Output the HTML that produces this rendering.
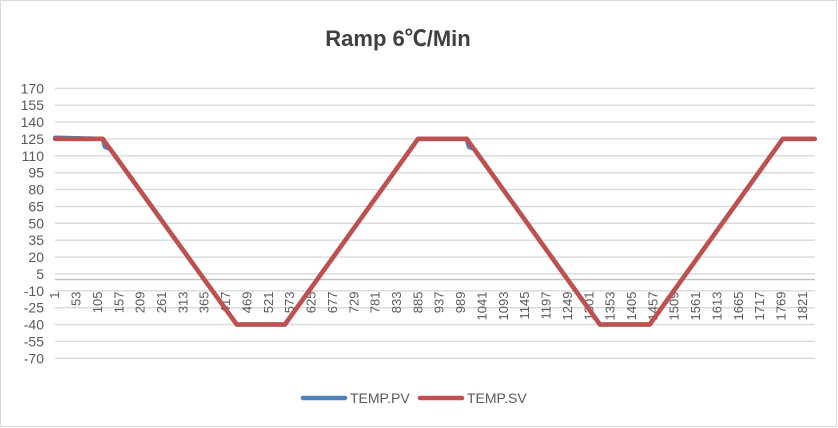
<!DOCTYPE html>
<html><head><meta charset="utf-8"><style>
body{margin:0;background:#fff;}
svg{display:block;font-family:"Liberation Sans","Noto Sans CJK SC",sans-serif;}
</style></head><body>
<svg id="chart" width="838" height="428">
<rect x="0.5" y="0.5" width="836" height="426" fill="#fff" stroke="#d9d9d9"/>
<text x="398" y="46" text-anchor="middle" font-size="22" font-weight="bold" fill="#404040">Ramp 6℃/Min</text>
<g id="grid"></g><g id="ylabels"></g><g id="xlabels"></g><g id="series"></g>
<g>
<line x1="303" y1="398" x2="345" y2="398" stroke="#4f81bd" stroke-width="4.5" stroke-linecap="round"/>
<text x="350" y="403" font-size="14" fill="#595959">TEMP.PV</text>
<line x1="420" y1="398" x2="462" y2="398" stroke="#c0504d" stroke-width="4.5" stroke-linecap="round"/>
<text x="467" y="403" font-size="14" fill="#595959">TEMP.SV</text>
</g>
</svg>
<script>
const yTicks=[-70,-55,-40,-25,-10,5,20,35,50,65,80,95,110,125,140,155,170];
const categoryCount=1850;
const xLabelStep=52;
const svIdx=[1,117,443,560,884,1003,1327,1448,1772,1850];
const svVal=[125,125,-40,-40,125,125,-40,-40,125,125];
const pvIdx=[1,117,122,135,443,560,884,1003,1008,1021,1327,1448,1772,1850];
const pvVal=[126,125,118,116,-40,-40,125,125,118,116,-40,-40,125,125];
const NS='http://www.w3.org/2000/svg';
const X0=55,X1=815,Y0=88.3,Y1=358.3;
const step=(X1-X0)/categoryCount;
function xs(i){return X0+(i-0.5)*step;}
function ys(v){return Y0+(170-v)*(Y1-Y0)/240;}
const grid=document.getElementById('grid'),yl=document.getElementById('ylabels'),xl=document.getElementById('xlabels'),ser=document.getElementById('series');
yTicks.forEach(t=>{
 const l=document.createElementNS(NS,'line');
 l.setAttribute('x1',X0);l.setAttribute('x2',X1);l.setAttribute('y1',ys(t));l.setAttribute('y2',ys(t));
 l.setAttribute('stroke','#d9d9d9');l.setAttribute('stroke-width','1.3');
 
 
 grid.appendChild(l);
 const tx=document.createElementNS(NS,'text');
 tx.setAttribute('x',44);tx.setAttribute('y',ys(t)+5);tx.setAttribute('text-anchor','end');
 tx.setAttribute('font-size','14');tx.setAttribute('fill','#595959');tx.textContent=t;
 
 
 yl.appendChild(tx);
});
const ax=document.createElementNS(NS,'line');
ax.setAttribute('x1',X0);ax.setAttribute('x2',X1);ax.setAttribute('y1',ys(0));ax.setAttribute('y2',ys(0));
ax.setAttribute('stroke','#bfbfbf');ax.setAttribute('stroke-width','1.3');


grid.appendChild(ax);
for(let c=1;c<=categoryCount;c+=xLabelStep){
 const tx=document.createElementNS(NS,'text');
 const x=xs(c)+4,y=ys(0)+12;
 tx.setAttribute('transform','translate('+x+','+y+') rotate(-90)');
 tx.setAttribute('text-anchor','end');tx.setAttribute('font-size','13');tx.setAttribute('fill','#595959');
 tx.textContent=c;
 
 
 xl.appendChild(tx);
}
function drawLine(idx,val,color,name){
 const p=document.createElementNS(NS,'polyline');
 p.setAttribute('points',idx.map((i,k)=>xs(i)+','+ys(val[k])).join(' '));
 p.setAttribute('fill','none');p.setAttribute('stroke',color);p.setAttribute('stroke-width','4.5');
 p.setAttribute('stroke-linejoin','round');p.setAttribute('stroke-linecap','round');
 
 
 ser.appendChild(p);
}
drawLine(pvIdx,pvVal,'#4f81bd','series-temp-pv');
drawLine(svIdx,svVal,'#c0504d','series-temp-sv');
</script>
</body></html>
